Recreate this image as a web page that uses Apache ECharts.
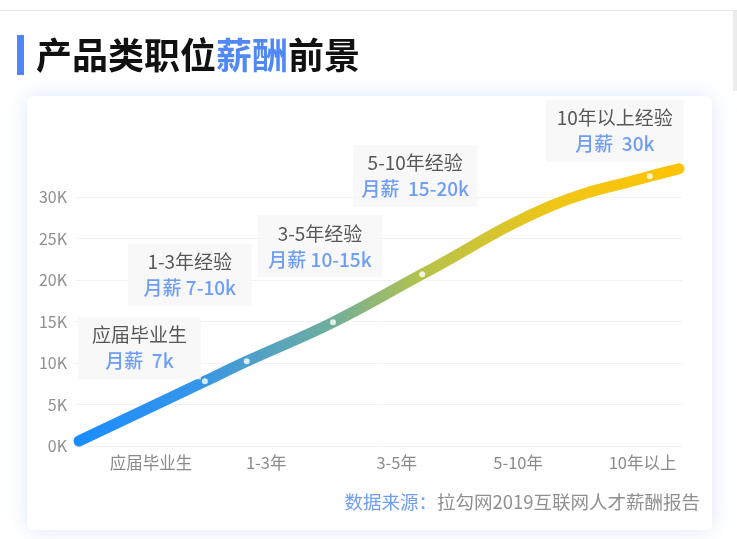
<!DOCTYPE html>
<html>
<head>
<meta charset="utf-8">
<script src="https://cdn.jsdelivr.net/npm/echarts@6/dist/echarts.min.js"></script>
<style>
html,body{margin:0;padding:0;background:#fff;}
#chart{width:737px;height:539px;}
</style>
</head>
<body>
<div id="chart"></div>
<script>
// ---- data ----
const stageNames = ['应届毕业生', '1-3年', '3-5年', '5-10年', '10年以上'];
const stageTickPos = [12.5, 31.5, 53, 73, 93.5];
const curveX = [0.66, 21.4, 28.3, 42.5, 57.2, 78.3, 94.7, 99.5];
const curveY = [0.6, 7.8, 10.2, 14.9, 20.7, 28.9, 32.5, 33.4];
const milestoneX = [21.4, 28.3, 42.5, 57.2, 94.7];
const milestoneY = [7.8, 10.2, 14.9, 20.7, 32.5];
const boxTitles = ['应届毕业生', '1-3年经验', '3-5年经验', '5-10年经验', '10年以上经验'];
const boxSalaries = ['月薪  7k', '月薪 7-10k', '月薪 10-15k', '月薪  15-20k', '月薪  30k'];
const yMin = 0, yMax = 30, yStep = 5;

// ---- layout (not data) ----
const boxOffsets = [[-65.5, -33], [-57, -86.5], [-13, -76], [-7, -98.5], [-35, -45.5]];
const boxWidths = [123, 124, 124, 124, 138];

const FONT = '"Noto Sans CJK SC", "Noto Sans", sans-serif';
const BLUE = '#4a86f6';

const chart = echarts.init(document.getElementById('chart'));

const lineData = curveX.map((x, i) => [x, curveY[i]]);
const dotData = milestoneX.map((x, i) => ({
  value: [x, milestoneY[i]],
  label: {
    offset: boxOffsets[i],
    width: boxWidths[i],
    formatter: '{t|' + boxTitles[i] + '}\n{s|' + boxSalaries[i] + '}'
  }
}));

chart.setOption({
  backgroundColor: '#fff',
  textStyle: { fontFamily: FONT },
  animation: false,
  title: [
    {
      text: '{k|产品类职位}{b|薪酬}{k|前景}',
      left: 36, top: 35, padding: 0,
      textStyle: {
        rich: {
          k: { fontSize: 36, fontWeight: 'bold', color: '#111', fontFamily: FONT, lineHeight: 40 },
          b: { fontSize: 36, fontWeight: 'bold', color: '#5088f5', fontFamily: FONT, lineHeight: 40 }
        }
      }
    },
    {
      text: '{b|数据来源：}{g|拉勾网2019互联网人才薪酬报告}',
      right: 37, top: 490, padding: 0,
      textStyle: {
        fontWeight: 'normal',
        rich: {
          b: { fontSize: 18.5, fontWeight: 'normal', color: '#6f9ef6', fontFamily: FONT, lineHeight: 24 },
          g: { fontSize: 18.5, fontWeight: 'normal', color: '#909090', fontFamily: FONT, lineHeight: 24 }
        }
      }
    }
  ],
  graphic: {
    elements: [
      { type: 'line', z: -100, shape: { x1: 0, y1: 10.5, x2: 737, y2: 10.5 }, style: { stroke: '#e6e6e6', lineWidth: 1 } },
      { type: 'rect', z: -100, shape: { x: 733, y: 11, width: 4, height: 80 }, style: { fill: '#ececec' } },
      { type: 'rect', z: -100, shape: { x: 17, y: 35, width: 7, height: 40 }, style: { fill: '#4f86f7' } },
      {
        type: 'rect', z: -100,
        shape: { x: 27, y: 96, width: 685, height: 434, r: 6 },
        style: { fill: '#fff', shadowBlur: 22, shadowColor: 'rgba(170,200,245,0.4)' }
      }
    ]
  },
  grid: { left: 75, right: 55, top: 197, bottom: 93 },
  xAxis: {
    type: 'value', min: 0, max: 100, interval: 0.5,
    axisLine: { show: false }, axisTick: { show: false }, splitLine: { show: false },
    axisLabel: {
      margin: 8, fontSize: 16.5, color: '#8a8a8a', fontFamily: FONT,
      showMinLabel: true, showMaxLabel: true,
      formatter: function (v) {
        for (let i = 0; i < stageTickPos.length; i++) {
          if (Math.abs(v - stageTickPos[i]) < 0.01) return stageNames[i];
        }
        return '';
      }
    }
  },
  yAxis: {
    type: 'value', min: yMin, max: yMax, interval: yStep,
    axisLine: { show: false }, axisTick: { show: false },
    splitLine: { lineStyle: { color: '#f2f2f2', width: 1 } },
    axisLabel: { margin: 8, fontSize: 16, color: '#8f8f8f', fontFamily: FONT, formatter: '{value}K' }
  },
  series: [
    {
      type: 'line', data: lineData, smooth: 0.4, showSymbol: false, clip: false, z: 3,
      lineStyle: {
        width: 11, cap: 'round', join: 'round',
        color: new echarts.graphic.LinearGradient(0, 0, 1, 0, [
          { offset: 0, color: '#1a8cff' },
          { offset: 0.2, color: '#3595ea' },
          { offset: 0.42, color: '#6fae9c' },
          { offset: 0.57, color: '#b5c24c' },
          { offset: 0.78, color: '#efc618' },
          { offset: 1, color: '#ffc300' }
        ])
      }
    },
    {
      type: 'scatter', data: dotData, symbol: 'circle', symbolSize: 6, clip: false, z: 5,
      itemStyle: { color: '#fff' },
      label: {
        show: true, position: 'inside',
        backgroundColor: '#f6f6f6', padding: [5, 0], align: 'center',
        rich: {
          t: { fontSize: 19, color: '#2e2e2e', lineHeight: 26, align: 'center', fontFamily: FONT },
          s: { fontSize: 19, color: BLUE, lineHeight: 26, align: 'center', fontWeight: 500, fontFamily: FONT }
        }
      }
    }
  ]
});
</script>
</body>
</html>
